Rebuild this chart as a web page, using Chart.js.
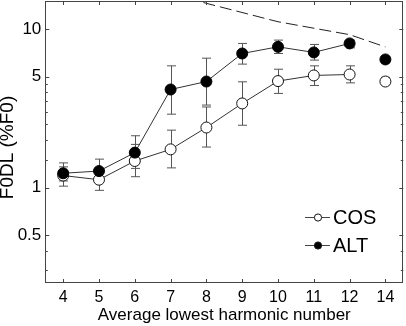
<!DOCTYPE html>
<html>
<head>
<meta charset="utf-8">
<script src="https://cdn.jsdelivr.net/npm/chart.js@4.4.0/dist/chart.umd.min.js"></script>
<style>
html,body{margin:0;padding:0;background:#fff;}
#wrap{width:406px;height:326px;position:relative;}
</style>
</head>
<body>
<div id="wrap"><canvas id="c" width="406" height="326"></canvas></div>
<script>
// ---- data ----
const categories = ['4','5','6','7','8','9','10','11','12','14'];
const cosMean = [1.19, 1.12, 1.47, 1.74, 2.39, 3.39, 4.69, 5.09, 5.16, 4.66];
const cosLow  = [1.02, 0.96, 1.17, 1.33, 1.80, 2.47, 3.92, 4.40, 4.57, 4.45];
const cosHigh = [1.35, 1.28, 1.87, 2.30, 3.22, 4.64, 5.57, 5.85, 5.85, 4.95];
const altMean = [1.23, 1.27, 1.66, 4.15, 4.66, 7.00, 7.71, 7.11, 8.10, 6.42];
const altLow  = [1.10, 1.12, 1.32, 2.90, 3.31, 6.00, 7.00, 6.36, 7.60, 6.10];
const altHigh = [1.43, 1.51, 2.12, 5.85, 6.54, 8.10, 8.50, 7.98, 8.50, 6.70];
const limitLine = [null, null, null, 16.7, 14.5, null, 11.1, null, 9.2, 7.7];
const yTickValues = [0.3, 0.4, 0.5, 1, 1.5, 2, 2.5, 3, 3.5, 4, 4.5, 5, 10];
const yTickLabels = {0.5: '0.5', 1: '1', 5: '5', 10: '10'};
const seriesNames = ['COS', 'ALT'];
const xTitle = 'Average lowest harmonic number';
const yTitle = 'F0DL (%F0)';

const FONT = '"Liberation Sans", Arial, Helvetica, sans-serif';

const errBars = {
  id: 'errBars',
  beforeDatasetsDraw(chart) {
    const ctx = chart.ctx, xs = chart.scales.x, ys = chart.scales.y;
    const sets = [[cosLow, cosHigh], [altLow, altHigh]];
    ctx.save();
    ctx.strokeStyle = '#555';
    ctx.lineWidth = 1;
    sets.forEach(([lo, hi]) => {
      for (let i = 0; i < categories.length; i++) {
        const x = Math.round(xs.getPixelForValue(i)) + 0.5;
        const y1 = ys.getPixelForValue(lo[i]);
        const y2 = ys.getPixelForValue(hi[i]);
        ctx.beginPath();
        ctx.moveTo(x, y1); ctx.lineTo(x, y2);
        ctx.moveTo(x - 4.5, y1); ctx.lineTo(x + 4.5, y1);
        ctx.moveTo(x - 4.5, y2); ctx.lineTo(x + 4.5, y2);
        ctx.stroke();
      }
    });
    ctx.restore();
  }
};

const frame = {
  id: 'frame',
  afterDraw(chart) {
    const ctx = chart.ctx, a = chart.chartArea, xs = chart.scales.x, ys = chart.scales.y;
    ctx.save();
    ctx.strokeStyle = '#444';
    ctx.lineWidth = 1;
    ctx.strokeRect(Math.round(a.left) + 0.5, Math.round(a.top) + 0.5,
                   Math.round(a.right - a.left) - 1, Math.round(a.bottom - a.top) - 1);
    ctx.beginPath();
    for (let i = 0; i < categories.length; i++) {
      const x = Math.round(xs.getPixelForValue(i)) + 0.5;
      ctx.moveTo(x, a.bottom); ctx.lineTo(x, a.bottom - 4);
      ctx.moveTo(x, a.top); ctx.lineTo(x, a.top + 4);
    }
    yTickValues.forEach(v => {
      const y = Math.round(ys.getPixelForValue(v)) + 0.5;
      const len = yTickLabels[v] ? 4 : 2.5;
      ctx.moveTo(a.left, y); ctx.lineTo(a.left + len, y);
      ctx.moveTo(a.right, y); ctx.lineTo(a.right - len, y);
    });
    ctx.stroke();
    // y axis title
    ctx.save();
    ctx.translate(8, 147.5);
    ctx.rotate(-Math.PI / 2);
    ctx.fillStyle = '#000';
    ctx.font = '19px ' + FONT;
    ctx.textAlign = 'center';
    ctx.textBaseline = 'middle';
    ctx.fillText(yTitle, 0, 0);
    ctx.restore();
    // legend
    const items = [
      {name: seriesNames[0], fill: '#fff', y: 217},
      {name: seriesNames[1], fill: '#000', y: 245}
    ];
    items.forEach(it => {
      ctx.strokeStyle = '#444';
      ctx.beginPath();
      ctx.moveTo(305, it.y + 0.5); ctx.lineTo(330, it.y + 0.5);
      ctx.stroke();
      ctx.beginPath();
      ctx.arc(318, it.y + 0.5, 3.6, 0, Math.PI * 2);
      ctx.fillStyle = it.fill;
      ctx.fill();
      ctx.strokeStyle = '#111';
      ctx.stroke();
      ctx.fillStyle = '#000';
      ctx.font = '20px ' + FONT;
      ctx.textBaseline = 'middle';
      ctx.textAlign = 'left';
      ctx.fillText(it.name, 333, it.y + 1);
    });
    ctx.restore();
  }
};

const skipLast = ctx => (ctx.p1DataIndex === categories.length - 1 ? 'rgba(0,0,0,0)' : '#333');
function zeroPad(s) { s.paddingTop = 0; s.paddingBottom = 0; s.paddingLeft = 0; s.paddingRight = 0; }

new Chart(document.getElementById('c'), {
  type: 'line',
  data: {
    labels: categories,
    datasets: [
      {
        label: 'limit', data: limitLine, spanGaps: true,
        borderColor: '#222', borderWidth: 1, borderDash: [12, 5],
        pointRadius: 0, fill: false, order: 3
      },
      {
        label: seriesNames[0], data: cosMean,
        borderColor: '#333', borderWidth: 1,
        segment: {borderColor: skipLast},
        pointRadius: 5.5, pointBackgroundColor: '#fff', pointBorderColor: '#111',
        pointBorderWidth: 1, order: 2
      },
      {
        label: seriesNames[1], data: altMean,
        borderColor: '#333', borderWidth: 1,
        segment: {borderColor: skipLast},
        pointRadius: 5.5, pointBackgroundColor: '#000', pointBorderColor: '#000',
        pointBorderWidth: 1, order: 1
      }
    ]
  },
  options: {
    responsive: false,
    animation: false,
    events: [],
    layout: {autoPadding: false, padding: {top: 1, right: 2.7, left: 0, bottom: 0}},
    plugins: {legend: {display: false}, tooltip: {enabled: false}},
    scales: {
      x: {
        type: 'category', offset: true,
        grid: {display: false, drawTicks: false},
        border: {display: false},
        ticks: {color: '#000', font: {size: 16, family: FONT}, padding: 5, maxRotation: 0, autoSkip: false},
        title: {display: true, text: xTitle, color: '#000',
                font: {size: 17, family: FONT}, padding: {top: 0, bottom: 0}},
        afterFit(s) { s.height = 43; zeroPad(s); }
      },
      y: {
        type: 'logarithmic', min: 0.25, max: 15,
        grid: {display: false, drawTicks: false},
        border: {display: false},
        afterBuildTicks(s) { s.ticks = yTickValues.map(v => ({value: v})); },
        ticks: {
          color: '#000', font: {size: 17, family: FONT}, padding: 4, autoSkip: false,
          callback: v => yTickLabels[v] || ''
        },
        title: {display: false},
        afterFit(s) { s.width = 45.3; zeroPad(s); }
      }
    }
  },
  plugins: [errBars, frame]
});
</script>
</body>
</html>
